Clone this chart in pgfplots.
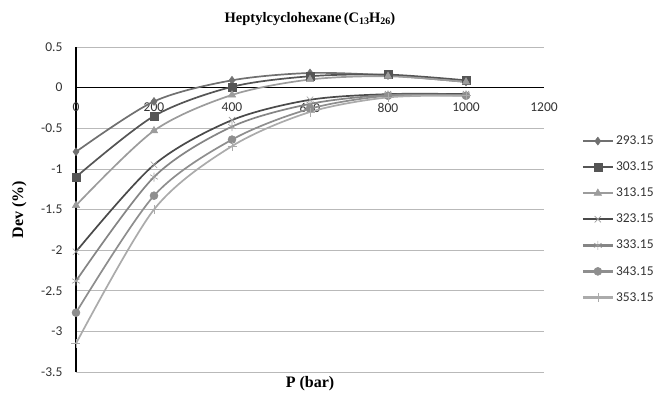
\documentclass[border=0pt]{standalone}
\usepackage{fontspec}
\setmainfont{Liberation Serif}
\newfontfamily\carlito{Carlito}
\usepackage{pgfplots}
\pgfplotsset{compat=1.18}
\definecolor{cA}{HTML}{707070}
\definecolor{cB}{HTML}{555555}
\definecolor{cC}{HTML}{9C9C9C}
\definecolor{cD}{HTML}{4A4A4A}
\definecolor{cE}{HTML}{858585}
\definecolor{cF}{HTML}{8E8E8E}
\definecolor{cG}{HTML}{ABABAB}
\newcommand{\sub}[1]{\raisebox{-0.35ex}{\fontsize{10}{10}\selectfont #1}}
\begin{document}
\begin{tikzpicture}
\begin{axis}[
  scale only axis, width=468pt, height=325pt,
  xmin=0, xmax=1200, ymin=-3.5, ymax=0.5,
  axis x line=middle, axis y line=left,
  hide obscured x ticks=false,
  axis line style={-, black, line width=1.6pt},
  xtick={0,200,...,1200}, ytick={-3.5,-3,...,0.5},
  major tick length=0pt,
  ymajorgrids, grid style={draw=gray!55, line width=0.6pt},
  /pgf/number format/assume math mode=true,
  /pgf/number format/fixed,
  /pgf/number format/1000 sep={},
  xticklabel style={font=\carlito\fontsize{13.5}{15}\selectfont, text=black!80, yshift=-12pt},
  yticklabel style={font=\carlito\fontsize{13.5}{15}\selectfont, text=black!80, xshift=-10pt},
  yticklabel={\pgfmathprintnumber[fixed,precision=1]{\tick}},
  title={\bfseries Heptylcyclohexane\,(C\sub{13}H\sub{26})},
  title style={font=\fontsize{14.5}{16}\selectfont, at={(0.5,1)}, anchor=south, yshift=12pt},
  xlabel={\bfseries P (bar)},
  ylabel={\bfseries Dev (\%)},
  xlabel style={font=\fontsize{16}{18}\selectfont, at={(rel axis cs:0.5,0)}, anchor=north, yshift=-1pt},
  ylabel style={font=\fontsize{16}{18}\selectfont, at={(rel axis cs:0,0.5)}, anchor=south, yshift=46pt},
  clip=false,
  every axis plot/.append style={smooth, tension=0.5, line width=1.7pt},
  legend style={at={(1.08,0.47)}, anchor=west, draw=none, fill=none,
    font=\carlito\fontsize{13.5}{15}\selectfont, text=black!80, row sep=11.8pt,
    inner sep=0pt},
  legend cell align=left,
  legend image code/.code={\draw[mark repeat=2,mark phase=2, line width=2.4pt] plot coordinates {(0pt,0pt) (15pt,0pt) (30pt,0pt)};},
]
\coordinate (sw) at (rel axis cs:0,0);
\coordinate (ne) at (rel axis cs:1,1);
\addplot[color=cA, mark=diamond*, mark size=4pt, mark options={line width=0.5pt}] coordinates {(0,-0.79) (200,-0.17) (400,0.09) (600,0.18) (800,0.15) (1000,0.07)};
\addplot[color=cB, mark=square*, mark size=4pt, mark options={line width=0.5pt}] coordinates {(0,-1.10) (200,-0.35) (400,0.01) (600,0.14) (800,0.16) (1000,0.09)};
\addplot[color=cC, mark=triangle*, mark size=4.3pt, mark options={line width=0.5pt}] coordinates {(0,-1.45) (200,-0.53) (400,-0.09) (600,0.10) (800,0.14) (1000,0.07)};
\addplot[color=cD, mark=x, mark size=4.5pt, mark options={line width=0.6pt, draw=cC}] coordinates {(0,-2.02) (200,-0.95) (400,-0.40) (600,-0.15) (800,-0.08) (1000,-0.08)};
\addplot[color=cE, mark=asterisk, mark size=4.5pt, mark options={line width=0.6pt, draw=cC}] coordinates {(0,-2.38) (200,-1.10) (400,-0.48) (600,-0.20) (800,-0.09) (1000,-0.09)};
\addplot[color=cF, mark=*, mark size=4pt, mark options={line width=0.5pt}] coordinates {(0,-2.77) (200,-1.33) (400,-0.64) (600,-0.26) (800,-0.10) (1000,-0.10)};
\addplot[color=cG, mark=+, mark size=4.5pt, mark options={line width=0.6pt}] coordinates {(0,-3.15) (200,-1.50) (400,-0.72) (600,-0.30) (800,-0.12) (1000,-0.10)};
\legend{293.15,303.15,313.15,323.15,333.15,343.15,353.15}
\end{axis}
\pgfresetboundingbox
\path[use as bounding box] ([xshift=-76pt,yshift=-20pt]sw) rectangle ([xshift=111pt,yshift=47pt]ne);
\end{tikzpicture}
\end{document}
